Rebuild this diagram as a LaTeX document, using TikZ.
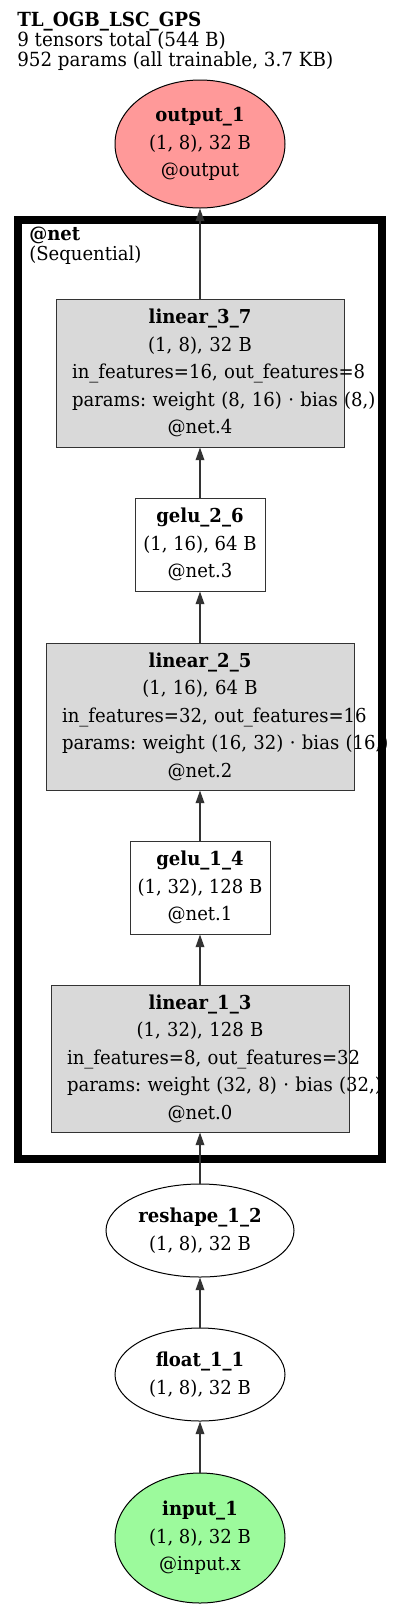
\documentclass[tikz,border=0pt]{standalone}
\usepackage{fontspec}
\setmainfont{DejaVu Serif}[FakeStretch=0.94]
\usepackage{tikz}
\usetikzlibrary{arrows.meta, positioning, shapes.geometric}
\frenchspacing

\definecolor{outred}{HTML}{FF9999}
\definecolor{ingreen}{HTML}{9CFA9C}
\definecolor{modgray}{HTML}{D9D9D9}
\definecolor{edgegray}{HTML}{333333}

\newcommand{\nodefont}{\fontsize{14.4pt}{20.6pt}\selectfont}
\newcommand{\oneline}[1]{\mbox{#1}}

\begin{document}
\begin{tikzpicture}[x=0.75pt, y=0.75pt,
    tensor/.style={ellipse, draw=black, line width=0.75pt, inner sep=0pt, font=\nodefont, align=center},
    layer/.style={rectangle, draw=edgegray, line width=0.75pt, inner sep=0pt, font=\nodefont, align=center},
    linbox/.style={layer, fill=modgray, inner xsep=12pt},
    edge/.style={draw=edgegray, line width=1pt, -{Triangle[length=9.5pt, width=6.5pt]}}]
    \useasboundingbox (0,0) rectangle (400,-1611);

  % Header
    \node[anchor=north west, inner sep=0pt, align=left, font=\fontsize{14.6pt}{14.8pt}\selectfont] (title) at (17,-12)
        {\textbf{TL\_OGB\_LSC\_GPS}\\9 tensors total (544 B)\\952 params (all trainable, 3.7 KB)};

  % Output
    \node[tensor, fill=outred, minimum width=127.5pt, minimum height=96pt] (out1) at (200,-144)
        {\textbf{output\_1}\\(1, 8), 32 B\\@output};

  % Sequential cluster
    \draw[line width=6pt] (18,-220) rectangle (382,-1159);
    \node[anchor=north west, inner sep=0pt, align=left, font=\fontsize{14.4pt}{15pt}\selectfont] (netlabel) at (29,-227)
        {\textbf{@net}\\(Sequential)};

    \node[linbox, text width=192pt, minimum height=111pt] (lin37) at (200,-373)
        {\textbf{linear\_3\_7}\\(1, 8), 32 B\\\oneline{in\_features=16, out\_features=8}\\\oneline{params: weight (8, 16) · bias (8,)}\\@net.4};

    \node[layer, minimum width=97.5pt, minimum height=69.75pt] (gelu26) at (200,-544.5)
        {\textbf{gelu\_2\_6}\\(1, 16), 64 B\\@net.3};

    \node[linbox, text width=207pt, minimum height=110.25pt] (lin25) at (200,-716.5)
        {\textbf{linear\_2\_5}\\(1, 16), 64 B\\\oneline{in\_features=32, out\_features=16}\\\oneline{params: weight (16, 32) · bias (16,)}\\@net.2};

    \node[layer, minimum width=105pt, minimum height=69.75pt] (gelu14) at (200,-887.5)
        {\textbf{gelu\_1\_4}\\(1, 32), 128 B\\@net.1};

    \node[linbox, text width=199.5pt, minimum height=110.25pt] (lin13) at (200,-1058.5)
        {\textbf{linear\_1\_3}\\(1, 32), 128 B\\\oneline{in\_features=8, out\_features=32}\\\oneline{params: weight (32, 8) · bias (32,)}\\@net.0};

  % Input side
    \node[tensor, minimum width=141pt, minimum height=69.75pt] (resh12) at (200,-1230.5)
        {\textbf{reshape\_1\_2}\\(1, 8), 32 B};

    \node[tensor, minimum width=127.5pt, minimum height=69.75pt] (float11) at (200,-1374.5)
        {\textbf{float\_1\_1}\\(1, 8), 32 B};

    \node[tensor, fill=ingreen, minimum width=127.5pt, minimum height=97.5pt] (in1) at (200,-1538)
        {\textbf{input\_1}\\(1, 8), 32 B\\@input.x};

  % Edges
    \draw[edge] (in1) -- (float11);
    \draw[edge] (float11) -- (resh12);
    \draw[edge] (resh12) -- (lin13);
    \draw[edge] (lin13) -- (gelu14);
    \draw[edge] (gelu14) -- (lin25);
    \draw[edge] (lin25) -- (gelu26);
    \draw[edge] (gelu26) -- (lin37);
    \draw[edge] (lin37) -- (out1);

\end{tikzpicture}
\end{document}
